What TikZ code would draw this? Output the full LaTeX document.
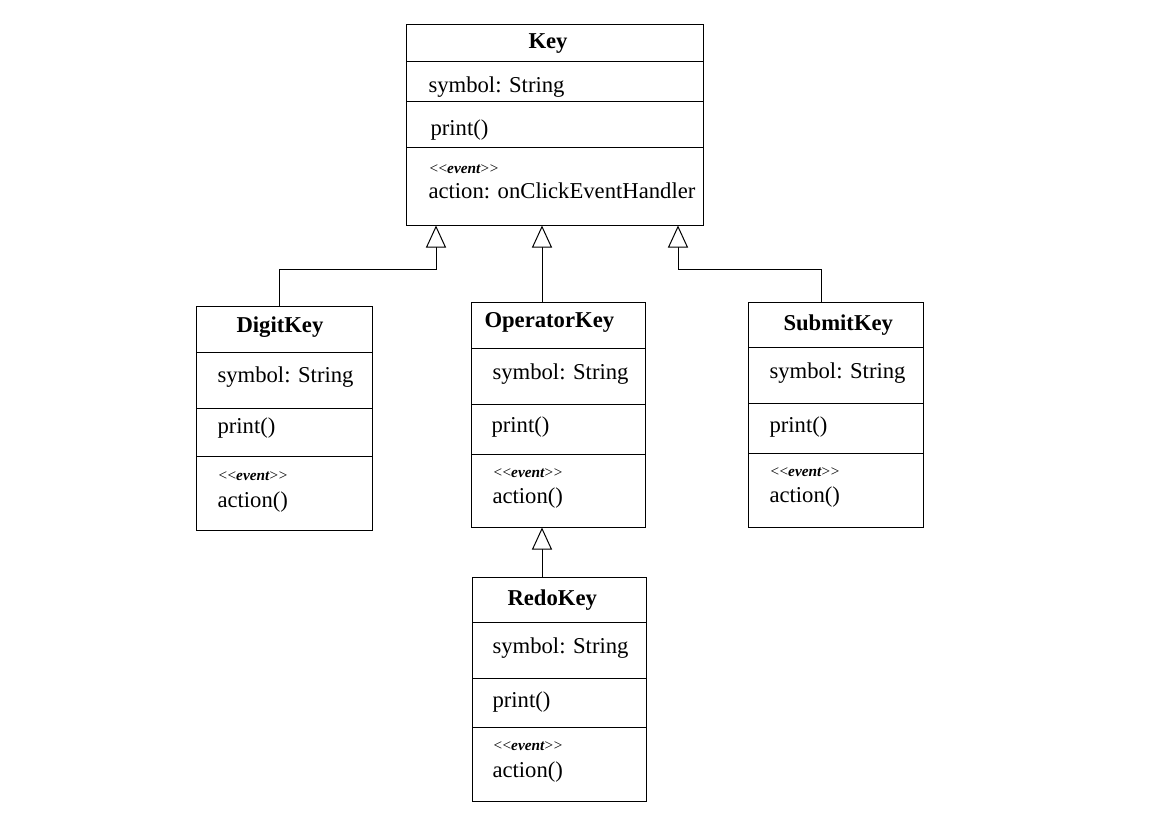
\documentclass[tikz,border=0pt]{standalone}
\usepackage{fontspec}
\setmainfont{Liberation Serif}
\usetikzlibrary{arrows.meta,fit}
\begin{document}
\begin{tikzpicture}[x=0.75pt,y=-0.75pt,
  line width=0.75pt,
  classbox/.style={draw, inner sep=0pt},
  title/.style={anchor=base west, inner sep=0pt, font=\fontsize{17}{20}\selectfont\bfseries},
  member/.style={anchor=base west, inner sep=0pt, font=\fontsize{17}{20}\selectfont},
  stereo/.style={anchor=base west, inner sep=0pt, font=\fontsize{11.5}{13}\selectfont\itshape},
  gen/.style={draw, -{Triangle[open, length=16.5pt, width=15pt, fill=white]}}]
\useasboundingbox (0,0) rectangle (1158,818);
\newcommand\evt{\textless\kern-1pt\textless\kern-0.5pt\textbf{event}\kern-0.5pt\textgreater\kern-1pt\textgreater}

% Key
\node[classbox, fit={(406,24) (703,225)}] (key) {};
\draw (406,61) -- (703,61) (406,101) -- (703,101) (406,147) -- (703,147);
\node[title]  (keyT) at (528,48)  {Key};
\node[member] (keyA) at (428,92)  {symbol: String};
\node[member] (keyM) at (430,135) {print()};
\node[stereo] (keyS) at (428,173) {\evt};
\node[member] (keyE) at (428,198) {action: onClickEventHandler};

% DigitKey
\node[classbox, fit={(196,306) (372,530)}] (dk) {};
\draw (196,352) -- (372,352) (196,408) -- (372,408) (196,456) -- (372,456);
\node[title]  (dkT) at (236,332) {DigitKey};
\node[member] (dkA) at (217,382) {symbol: String};
\node[member] (dkM) at (217,433) {print()};
\node[stereo] (dkS) at (217,480) {\evt};
\node[member] (dkE) at (217,507) {action()};

% OperatorKey
\node[classbox, fit={(471,302) (645,527)}] (ok) {};
\draw (471,348) -- (645,348) (471,404) -- (645,404) (471,454) -- (645,454);
\node[title]  (okT) at (484,327) {OperatorKey};
\node[member] (okA) at (492,379) {symbol: String};
\node[member] (okM) at (491,432) {print()};
\node[stereo] (okS) at (492,477) {\evt};
\node[member] (okE) at (492,503) {action()};

% SubmitKey
\node[classbox, fit={(748,302) (923,527)}] (sk) {};
\draw (748,347) -- (923,347) (748,403) -- (923,403) (748,453) -- (923,453);
\node[title]  (skT) at (783,330) {SubmitKey};
\node[member] (skA) at (769,378) {symbol: String};
\node[member] (skM) at (769,432) {print()};
\node[stereo] (skS) at (769,476) {\evt};
\node[member] (skE) at (769,502) {action()};

% RedoKey
\node[classbox, fit={(472,577) (646,801)}] (rk) {};
\draw (472,622) -- (646,622) (472,678) -- (646,678) (472,727) -- (646,727);
\node[title]  (rkT) at (507,605) {RedoKey};
\node[member] (rkA) at (492,653) {symbol: String};
\node[member] (rkM) at (492,707) {print()};
\node[stereo] (rkS) at (492,750) {\evt};
\node[member] (rkE) at (492,777) {action()};

% Generalisations
\draw[gen] ([xshift=-3.75pt]dk.north) -- ++(0,-36) -| ([xshift=-88.875pt]key.south);
\draw[gen] ([xshift=-12pt]ok.north) -- ([xshift=-12pt]ok.north |- key.south);
\draw[gen] ([xshift=-10.875pt]sk.north) -- ++(0,-32) -| ([xshift=92.625pt]key.south);
\draw[gen] ([xshift=-12.75pt]rk.north) -- ([xshift=-12.75pt]rk.north |- ok.south);
\end{tikzpicture}
\end{document}
